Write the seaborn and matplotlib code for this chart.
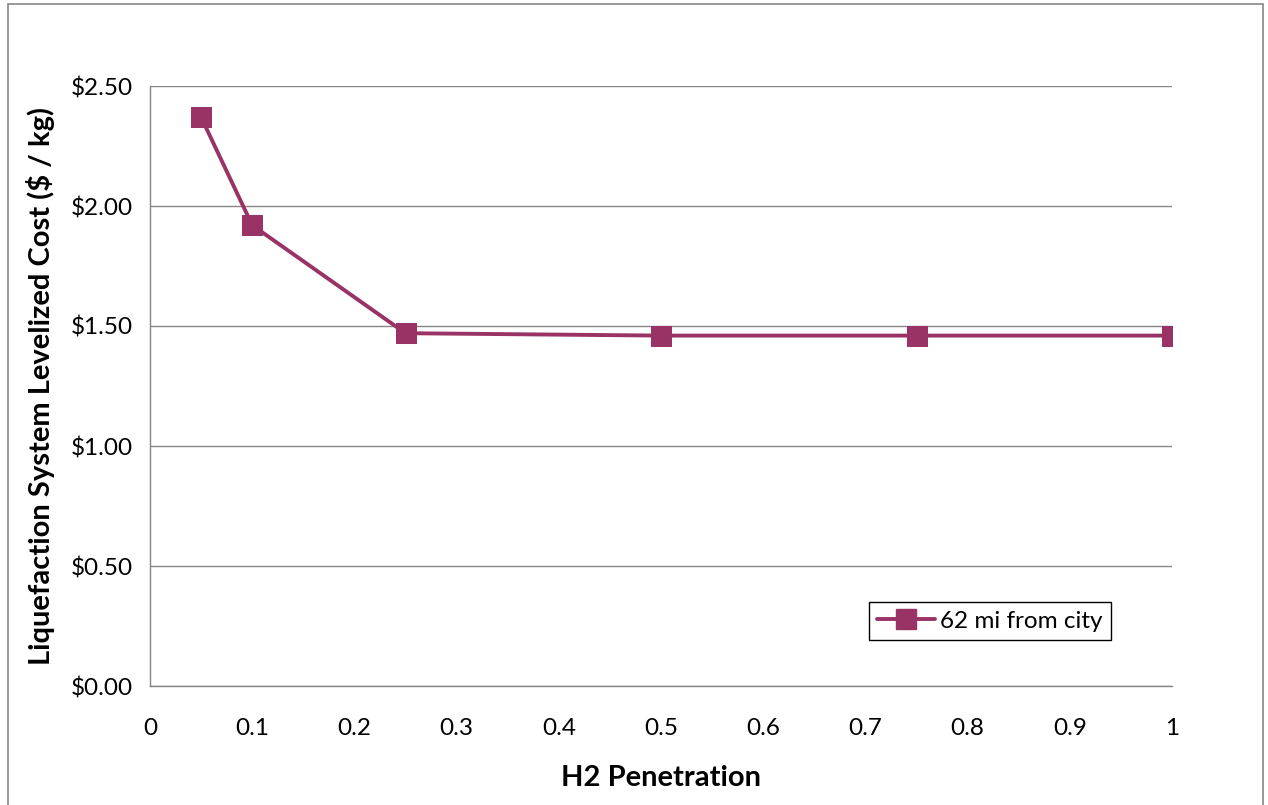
import matplotlib
matplotlib.use("Agg")
import matplotlib.pyplot as plt
import matplotlib.ticker as mticker
from matplotlib.patches import Rectangle
import seaborn as sns
import pandas as pd

penetration = [0.05, 0.1, 0.25, 0.5, 0.75, 1.0]
cost = [2.37, 1.92, 1.47, 1.46, 1.46, 1.46]
series_name = "62 mi from city"
x_ticks = [0, 0.1, 0.2, 0.3, 0.4, 0.5, 0.6, 0.7, 0.8, 0.9, 1]
y_ticks = [0.0, 0.5, 1.0, 1.5, 2.0, 2.5]

sns.set_style("white")
plt.rcParams['font.family'] = ['Lato', 'DejaVu Sans']

W, H = 1268, 805
fig = plt.figure(figsize=(W / 100, H / 100), dpi=100)
ax = fig.add_axes([150 / W, 1 - 686 / H, (1172 - 150) / W, (686 - 86) / H])

df = pd.DataFrame({"x": penetration, "y": cost, "s": series_name})
color = "#993366"
sns.lineplot(data=df, x="x", y="y", hue="s", palette=[color], marker="s",
             markersize=14, linewidth=2.8, markeredgecolor=color, ax=ax,
             legend=False, zorder=3)

ax.set_xlim(0, 1)
ax.set_ylim(0, 2.5)
ax.set_xticks(x_ticks)
ax.set_yticks(y_ticks)
ax.xaxis.set_major_formatter(mticker.FuncFormatter(lambda v, p: "%g" % round(v, 2)))
ax.yaxis.set_major_formatter(mticker.FuncFormatter(lambda v, p: "${:.2f}".format(v)))
ax.grid(axis="y", color="#868686", linewidth=1.0)
ax.grid(axis="x", visible=False)
for s in ["top", "right"]:
    ax.spines[s].set_visible(False)
for s in ["left", "bottom"]:
    ax.spines[s].set_color("#868686")
    ax.spines[s].set_linewidth(1.0)
ax.tick_params(axis="both", which="major", direction="out", length=6, width=1,
               color="#868686", labelsize=17.5, labelcolor="black")
ax.tick_params(axis="x", pad=17)
ax.tick_params(axis="y", pad=6)

ax.set_xlabel("H2 Penetration", fontsize=21, fontweight="bold", labelpad=19,
              color="black")
ax.set_ylabel("Liquefaction System Levelized Cost ($ / kg)", fontsize=21,
              fontweight="bold", labelpad=12, color="black")

leg_line = plt.Line2D([], [], color=color, marker="s", markersize=14,
                      linewidth=2.8, markeredgecolor=color)
leg = ax.legend([leg_line], [series_name], loc="center",
                bbox_to_anchor=((866 + 1114) / 2 / W, 1 - 621 / H),
                bbox_transform=fig.transFigure, fontsize=17.5, frameon=True,
                fancybox=False, framealpha=1, edgecolor="black",
                handlelength=2.4, handletextpad=0.2, borderpad=0.35,
                borderaxespad=0, labelcolor="black")
leg.get_frame().set_linewidth(1.0)

fig.patches.append(Rectangle((8 / W, -0.05), (1263 - 8) / W, 1.05 - 4 / H,
                             transform=fig.transFigure, fill=False,
                             edgecolor="#868686", linewidth=1.2))

fig.savefig("out.png", dpi=100)
